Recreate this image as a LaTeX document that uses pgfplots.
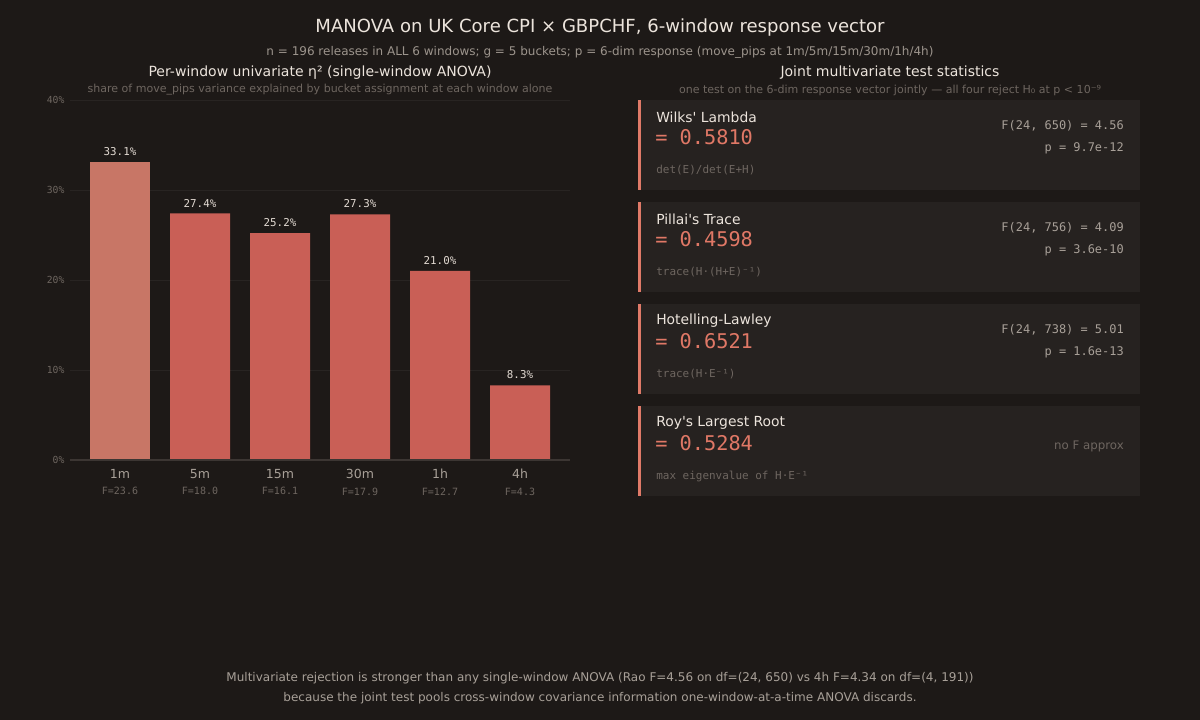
\documentclass[border=0pt]{standalone}
\usepackage{pgfplots}
\pgfplotsset{compat=1.18}
\usepackage{fontspec}
\setmainfont{DejaVu Sans}
\setmonofont{DejaVu Sans Mono}
\definecolor{bg}{HTML}{1D1917}
\definecolor{cardbg}{HTML}{262220}
\definecolor{accent}{HTML}{E07A68}
\definecolor{titlec}{HTML}{ECE4DC}
\definecolor{subc}{HTML}{9C948C}
\definecolor{dimc}{HTML}{6E6660}
\definecolor{midc}{HTML}{A8A098}
\definecolor{gridc}{HTML}{282422}
\definecolor{basec}{HTML}{3C3633}
\definecolor{barA}{HTML}{C87666}
\definecolor{barB}{HTML}{C95F56}
\definecolor{valc}{HTML}{E07866}
\definecolor{lblc}{HTML}{E2DAD2}
\pgfplotstableread{
x eta
0 33.1
}\firstbar
\pgfplotstableread{
x eta
1 27.4
2 25.2
3 27.3
4 21.0
5 8.3
}\otherbars
\newcommand{\card}[6]{%
  \fill[cardbg] (638,720-#1) rectangle (1140,720-#1-90);
  \fill[accent] (638,720-#1) rectangle (641,720-#1-90);
  \node[anchor=west,inner sep=0pt,text=titlec,font=\fontsize{10}{12}\selectfont] at (656,720-#1-17) {#2};
  \node[anchor=west,inner sep=0pt,text=valc,font=\ttfamily\fontsize{14.6}{16}\selectfont] at (655,720-#1-37) {#3};
  \node[anchor=west,inner sep=0pt,text=dimc,font=\ttfamily\fontsize{7.9}{9}\selectfont] at (656,720-#1-70) {#4};
  \node[anchor=east,inner sep=0pt,text=midc,font=\ttfamily\fontsize{8.6}{10}\selectfont] at (1124,720-#1-26) {#5};
  \node[anchor=east,inner sep=0pt,text=midc,font=\ttfamily\fontsize{8.6}{10}\selectfont] at (1124,720-#1-48) {#6};
}
\begin{document}
\begin{tikzpicture}[x=0.72pt,y=0.72pt,dn/.style={yshift=-1.44pt}]
\fill[bg] (0,0) rectangle (1200,720);
% titles
\node[dn,text=titlec,font=\fontsize{13}{15}\selectfont] at (600,720-26) {MANOVA on UK Core CPI × GBPCHF, 6-window response vector};
\node[dn,text=subc,font=\fontsize{8.64}{10}\selectfont] at (600,720-50) {n = 196 releases in ALL 6 windows; g = 5 buckets; p = 6-dim response (move\_pips at 1m/5m/15m/30m/1h/4h)};
\node[dn,text=titlec,font=\fontsize{10.1}{12}\selectfont] at (320,720-71) {Per-window univariate η² (single-window ANOVA)};
\node[dn,text=dimc,font=\fontsize{7.94}{9}\selectfont] at (320,720-88) {share of move\_pips variance explained by bucket assignment at each window alone};
\node[dn,text=titlec,font=\fontsize{10.1}{12}\selectfont] at (890,720-71) {Joint multivariate test statistics};
\node[dn,text=dimc,font=\fontsize{7.94}{9}\selectfont] at (890,720-88) {one test on the 6-dim response vector jointly — all four reject H₀ at p < 10⁻⁹};
% bottom note
\node[dn,text=midc,font=\fontsize{8.65}{10}\selectfont] at (600,720-676) {Multivariate rejection is stronger than any single-window ANOVA (Rao F=4.56 on df=(24, 650) vs 4h F=4.34 on df=(4, 191))};
\node[dn,text=midc,font=\fontsize{8.65}{10}\selectfont] at (600,720-696) {because the joint test pools cross-window covariance information one-window-at-a-time ANOVA discards.};
% cards
\card{100}{Wilks\textquotesingle\ Lambda}{= 0.5810}{det(E)/det(E+H)}{F(24, 650) = 4.56}{p = 9.7e-12}
\card{202}{Pillai\textquotesingle s Trace}{= 0.4598}{trace(H·(H+E)⁻¹)}{F(24, 756) = 4.09}{p = 3.6e-10}
\card{304}{Hotelling-Lawley}{= 0.6521}{trace(H·E⁻¹)}{F(24, 738) = 5.01}{p = 1.6e-13}
\card{406}{Roy\textquotesingle s Largest Root}{= 0.5284}{max eigenvalue of H·E⁻¹}{}{}
\node[anchor=east,inner sep=0pt,text=dimc,font=\fontsize{8.5}{10}\selectfont] at (1124,720-446) {no F approx};
% bar chart
\begin{axis}[
  at={(50.4pt,187.2pt)}, anchor=south west,
  width=360pt, height=259.2pt, scale only axis,
  xmin=-0.625, xmax=5.625, ymin=0, ymax=40,
  axis line style={draw=none},
  ytick={0,10,20,30,40},
  yticklabels={0\%,10\%,20\%,30\%,40\%},
  yticklabel style={text=dimc,font=\ttfamily\fontsize{7}{8}\selectfont,xshift=-0.5pt},
  ymajorgrids, major grid style={gridc,line width=0.7pt},
  major tick length=0pt,
  xtick={0,1,2,3,4,5},
  xticklabels={
    {1m\\[1pt]\textcolor{dimc}{\ttfamily\fontsize{7.2}{8}\selectfont F=23.6}},
    {5m\\[1pt]\textcolor{dimc}{\ttfamily\fontsize{7.2}{8}\selectfont F=18.0}},
    {15m\\[1pt]\textcolor{dimc}{\ttfamily\fontsize{7.2}{8}\selectfont F=16.1}},
    {30m\\[1pt]\textcolor{dimc}{\ttfamily\fontsize{7.2}{8}\selectfont F=17.9}},
    {1h\\[1pt]\textcolor{dimc}{\ttfamily\fontsize{7.2}{8}\selectfont F=12.7}},
    {4h\\[1pt]\textcolor{dimc}{\ttfamily\fontsize{7.2}{8}\selectfont F=4.3}}},
  xticklabel style={text=midc,font=\fontsize{9}{11}\selectfont,align=center,yshift=-3pt},
  ybar, bar width=43.2pt,
  nodes near coords={\pgfmathprintnumber[fixed,precision=1,fixed zerofill,assume math mode=true]{\pgfplotspointmeta}\%},
  nodes near coords style={text=lblc,font=\ttfamily\fontsize{7.8}{9}\selectfont,yshift=1pt},
  clip=false,
]
\addplot[fill=barA,draw=none,bar shift=0pt] table[x=x,y=eta] {\firstbar};
\addplot[fill=barB,draw=none,bar shift=0pt] table[x=x,y=eta] {\otherbars};
\draw[basec,line width=1pt] (axis cs:-0.625,0) -- (axis cs:5.625,0);
\end{axis}
\end{tikzpicture}
\end{document}
